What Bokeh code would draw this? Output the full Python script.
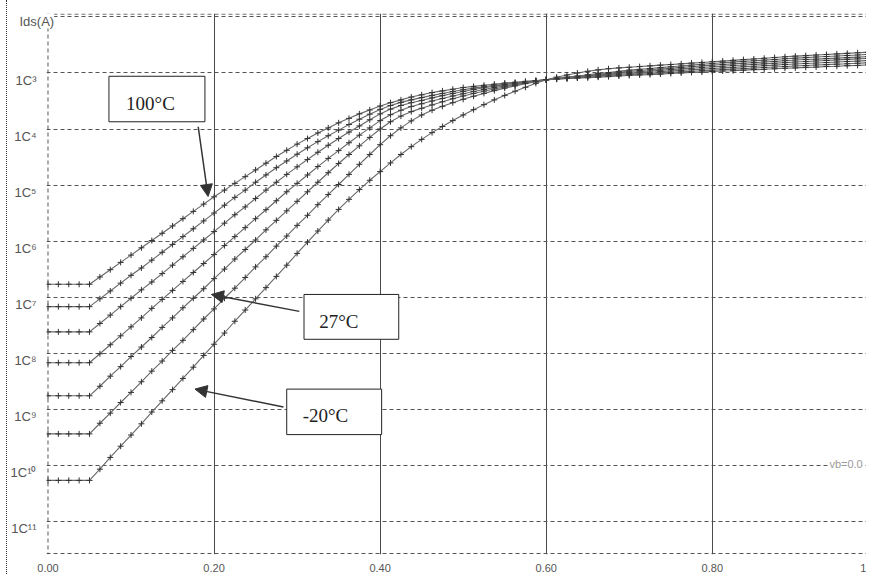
from bokeh.plotting import figure
from bokeh.models import Range1d, FixedTicker, Span, Label, BoxAnnotation, Arrow, NormalHead
from bokeh.embed import file_html
from bokeh.resources import INLINE

# Gate voltage Vgs (V)
VGS = [0.0, 0.0125, 0.025, 0.0375, 0.05, 0.0625, 0.075, 0.0875, 0.1, 0.1125, 0.125, 0.1375,
       0.15, 0.1625, 0.175, 0.1875, 0.2, 0.2125, 0.225, 0.2375, 0.25, 0.2625, 0.275, 0.2875,
       0.3, 0.3125, 0.325, 0.3375, 0.35, 0.3625, 0.375, 0.3875, 0.4, 0.4125, 0.425, 0.4375,
       0.45, 0.4625, 0.475, 0.4875, 0.5, 0.5125, 0.525, 0.5375, 0.55, 0.5625, 0.575, 0.5875,
       0.6, 0.6125, 0.625, 0.6375, 0.65, 0.6625, 0.675, 0.6875, 0.7, 0.7125, 0.725, 0.7375,
       0.75, 0.7625, 0.775, 0.7875, 0.8, 0.8125, 0.825, 0.8375, 0.85, 0.8625, 0.875, 0.8875,
       0.9, 0.9125, 0.925, 0.9375, 0.95, 0.9625, 0.975, 0.9875, 1.0]

# log10(Ids / A) for each temperature curve
LOG_IDS_100C = [-6.77, -6.77, -6.77, -6.77,
    -6.77, -6.64, -6.51, -6.38, -6.25, -6.12, -5.99, -5.86, -5.73, -5.60, -5.47, -5.34, -5.21,
    -5.09, -4.97, -4.85, -4.73, -4.61, -4.49, -4.38, -4.27, -4.17, -4.07, -3.98, -3.89, -3.81, -3.73, -3.66, -3.59,
    -3.53, -3.48, -3.43, -3.39, -3.35, -3.32, -3.29, -3.26, -3.24, -3.22, -3.20, -3.18, -3.165, -3.15, -3.135, -3.12,
    -3.11, -3.10, -3.09, -3.085, -3.075, -3.065, -3.055, -3.045, -3.035, -3.03, -3.02, -3.01, -3.0, -2.99, -2.985, -2.975,
    -2.965, -2.96, -2.95, -2.94, -2.935, -2.925, -2.915, -2.91, -2.90, -2.895, -2.885, -2.88, -2.87, -2.865, -2.855, -2.85]
LOG_IDS_80C = [-7.17, -7.17, -7.17, -7.17,
    -7.17, -7.03, -6.89, -6.75, -6.61, -6.48, -6.34, -6.20, -6.06, -5.92, -5.78, -5.64, -5.50,
    -5.36, -5.22, -5.09, -4.95, -4.82, -4.69, -4.57, -4.45, -4.335, -4.225, -4.12, -4.02, -3.92, -3.825, -3.735, -3.65,
    -3.58, -3.525, -3.48, -3.44, -3.40, -3.365, -3.33, -3.30, -3.27, -3.245, -3.22, -3.20, -3.18, -3.16, -3.14, -3.12,
    -3.109, -3.098, -3.087, -3.076, -3.064, -3.053, -3.042, -3.03, -3.02, -3.01, -3.0, -2.99, -2.98, -2.97, -2.96, -2.95,
    -2.941, -2.931, -2.922, -2.912, -2.903, -2.894, -2.884, -2.875, -2.867, -2.859, -2.851, -2.843, -2.835, -2.826, -2.818, -2.81]
LOG_IDS_60C = [-7.62, -7.62, -7.62, -7.62,
    -7.62, -7.47, -7.32, -7.17, -7.02, -6.87, -6.73, -6.58, -6.43, -6.28, -6.13, -5.98, -5.83,
    -5.68, -5.53, -5.39, -5.24, -5.09, -4.95, -4.81, -4.675, -4.545, -4.415, -4.29, -4.17, -4.055, -3.945, -3.835, -3.73,
    -3.645, -3.58, -3.53, -3.49, -3.445, -3.405, -3.365, -3.33, -3.295, -3.265, -3.235, -3.21, -3.185, -3.16, -3.14, -3.12,
    -3.106, -3.092, -3.079, -3.065, -3.051, -3.038, -3.024, -3.01, -2.999, -2.988, -2.976, -2.965, -2.954, -2.943, -2.931, -2.92,
    -2.91, -2.90, -2.89, -2.88, -2.87, -2.86, -2.85, -2.84, -2.831, -2.823, -2.814, -2.805, -2.796, -2.788, -2.779, -2.77]
LOG_IDS_40C = [-8.17, -8.17, -8.17, -8.17,
    -8.17, -8.01, -7.85, -7.69, -7.53, -7.37, -7.20, -7.04, -6.88, -6.72, -6.56, -6.40, -6.24,
    -6.08, -5.92, -5.76, -5.60, -5.44, -5.28, -5.12, -4.97, -4.82, -4.67, -4.525, -4.385, -4.245, -4.11, -3.98, -3.85,
    -3.745, -3.665, -3.60, -3.55, -3.50, -3.455, -3.41, -3.37, -3.33, -3.295, -3.26, -3.23, -3.20, -3.17, -3.145, -3.12,
    -3.102, -3.085, -3.068, -3.052, -3.036, -3.02, -3.005, -2.99, -2.977, -2.965, -2.952, -2.94, -2.927, -2.915, -2.902, -2.89,
    -2.879, -2.868, -2.858, -2.847, -2.837, -2.826, -2.816, -2.805, -2.796, -2.786, -2.777, -2.767, -2.758, -2.749, -2.739, -2.73]
LOG_IDS_20C = [-8.76, -8.76, -8.76, -8.76,
    -8.76, -8.59, -8.41, -8.24, -8.06, -7.89, -7.72, -7.54, -7.37, -7.19, -7.02, -6.85, -6.67,
    -6.50, -6.32, -6.15, -5.98, -5.80, -5.63, -5.46, -5.29, -5.12, -4.95, -4.78, -4.615, -4.455, -4.30, -4.15, -4.00,
    -3.87, -3.77, -3.69, -3.63, -3.57, -3.515, -3.46, -3.41, -3.365, -3.325, -3.285, -3.25, -3.215, -3.18, -3.15, -3.12,
    -3.101, -3.082, -3.064, -3.045, -3.026, -3.008, -2.989, -2.97, -2.956, -2.943, -2.929, -2.915, -2.901, -2.888, -2.874, -2.86,
    -2.849, -2.838, -2.826, -2.815, -2.804, -2.793, -2.781, -2.77, -2.761, -2.753, -2.744, -2.735, -2.726, -2.718, -2.709, -2.70]
LOG_IDS_0C = [-9.44, -9.44, -9.44, -9.44,
    -9.44, -9.25, -9.07, -8.88, -8.70, -8.51, -8.32, -8.14, -7.95, -7.77, -7.58, -7.39, -7.21,
    -7.02, -6.84, -6.65, -6.46, -6.28, -6.09, -5.91, -5.72, -5.54, -5.35, -5.17, -4.99, -4.81, -4.63, -4.455, -4.28,
    -4.12, -3.98, -3.855, -3.75, -3.665, -3.595, -3.53, -3.47, -3.415, -3.365, -3.315, -3.27, -3.23, -3.19, -3.155, -3.12,
    -3.097, -3.075, -3.054, -3.033, -3.012, -2.992, -2.971, -2.95, -2.935, -2.92, -2.905, -2.89, -2.875, -2.86, -2.845, -2.83,
    -2.818, -2.806, -2.794, -2.783, -2.771, -2.759, -2.747, -2.735, -2.726, -2.716, -2.707, -2.698, -2.688, -2.679, -2.669, -2.66]
LOG_IDS_M20C = [-10.27, -10.27, -10.27, -10.27,
    -10.27, -10.07, -9.86, -9.66, -9.46, -9.26, -9.05, -8.85, -8.65, -8.45, -8.25, -8.04, -7.84,
    -7.64, -7.43, -7.23, -7.03, -6.83, -6.63, -6.43, -6.22, -6.02, -5.82, -5.625, -5.435, -5.255, -5.08, -4.915, -4.76,
    -4.605, -4.455, -4.315, -4.185, -4.065, -3.955, -3.85, -3.75, -3.655, -3.565, -3.48, -3.40, -3.325, -3.255, -3.185, -3.12,
    -3.075, -3.035, -3.0, -2.97, -2.945, -2.925, -2.91, -2.898, -2.886, -2.873, -2.861, -2.849, -2.837, -2.824, -2.812, -2.80,
    -2.788, -2.775, -2.762, -2.75, -2.738, -2.725, -2.712, -2.70, -2.69, -2.68, -2.67, -2.66, -2.65, -2.64, -2.63, -2.62]

CURVES = [LOG_IDS_100C, LOG_IDS_80C, LOG_IDS_60C, LOG_IDS_40C, LOG_IDS_20C, LOG_IDS_0C, LOG_IDS_M20C]

# axis ticks and labels
X_TICKS = [0.0, 0.2, 0.4, 0.6, 0.8]
X_TICK_LABELS = ["0.00", "0.20", "0.40", "0.60", "0.80"]
X_END_LABEL = "1"
Y_DECADES = [-3, -4, -5, -6, -7, -8, -9, -10, -11]
Y_TICK_LABELS = ["1C\u00b3", "1C\u2074", "1C\u2075", "1C\u2076", "1C\u2077", "1C\u2078",
                 "1C\u2079", "1C\u00b9\u2070", "1C\u00b9\u00b9"]
Y_TITLE = "Ids(A)"
VB_TEXT = "vb=0.0"
TEMP_LABELS = ["100\u00b0C", "27\u00b0C", "-20\u00b0C"]

GRAY = "#555555"

p = figure(width=860, height=574, x_range=Range1d(-0.0018, 0.9869), y_range=Range1d(-11.592, -1.939),
           output_backend="svg", toolbar_location=None,
           min_border_left=32, min_border_right=0, min_border_top=13, min_border_bottom=18)
p.styles = {"margin-left": "6px", "border-left": "1px dotted #333333"}
p.outline_line_color = None
p.background_fill_color = "white"
p.border_fill_color = "white"

# "Ids(A)" in the top-left corner
p.title.text = Y_TITLE
p.title.align = "left"
p.title.offset = -27
p.title.standoff = -30
p.title.vertical_align = "bottom"
p.title.text_font = "Liberation Sans"
p.title.text_font_size = "13px"
p.title.text_font_style = "normal"
p.title.text_color = GRAY
p.title.background_fill_color = "white"

# x axis
x_ticks = X_TICKS + [0.982]
p.xaxis.ticker = FixedTicker(ticks=x_ticks)
ov = {t: s for t, s in zip(X_TICKS, X_TICK_LABELS)}
ov[0.982] = X_END_LABEL
p.xaxis.major_label_overrides = ov
p.xaxis.axis_line_color = None
p.xaxis.major_tick_line_color = None
p.xaxis.minor_tick_line_color = None
p.xaxis.major_label_standoff = 3
p.xaxis.major_label_text_font = "Liberation Sans"
p.xaxis.major_label_text_font_size = "11px"
p.xaxis.major_label_text_color = GRAY

# y axis (labels sit just below their decade line)
y_ticks = [round(d - 0.13, 2) for d in Y_DECADES]
p.yaxis.ticker = FixedTicker(ticks=y_ticks)
p.yaxis.major_label_overrides = {t: s for t, s in zip(y_ticks, Y_TICK_LABELS)}
p.yaxis.axis_line_color = None
p.yaxis.major_tick_line_color = None
p.yaxis.minor_tick_line_color = None
p.yaxis.major_label_standoff = 4
p.yaxis.major_label_text_font = "Liberation Sans"
p.yaxis.major_label_text_font_size = "13px"
p.yaxis.major_label_text_color = GRAY

# grids
p.xgrid.ticker = FixedTicker(ticks=[0.2, 0.4, 0.6, 0.8])
p.xgrid.grid_line_color = "#4a4a4a"
p.xgrid.grid_line_width = 1
p.ygrid.ticker = FixedTicker(ticks=[-2] + Y_DECADES)
p.ygrid.grid_line_color = GRAY
p.ygrid.grid_line_dash = "4 3"
p.ygrid.grid_line_width = 1

# frame edges (dashed)
p.add_layout(Span(location=0, dimension="height", line_color=GRAY, line_dash="4 3", line_width=1))
p.add_layout(Span(location=-1.95, dimension="width", line_color=GRAY, line_dash="4 3", line_width=1))
p.add_layout(Span(location=-11.574, dimension="width", line_color=GRAY, line_dash="4 3", line_width=1))

# curves
for ys in CURVES:
    p.line(VGS, ys, line_color="#666666", line_width=1.1)
    p.scatter(VGS, ys, marker="cross", size=6, line_color="#333333", line_width=1)

# annotation boxes, texts and arrows
boxes = [(0.0734, 0.189, -3.059, -3.871), (0.3083, 0.4224, -6.952, -7.752), (0.2875, 0.4018, -8.641, -9.453)]
texts = [(0.1234, -3.539), (0.3502, -7.427), (0.3341, -9.116)]
arrows = [((0.1809, -3.96), (0.1928, -5.204)), ((0.3027, -7.254), (0.1968, -6.952)),
          ((0.2836, -8.961), (0.177, -8.641))]
for (l, r, t, b) in boxes:
    p.add_layout(BoxAnnotation(left=l, right=r, top=t, bottom=b, fill_color="white", fill_alpha=1,
                               line_color="#222222", line_width=1, line_alpha=1))
for ((x0, y0), (x1, y1)) in arrows:
    p.add_layout(Arrow(x_start=x0, y_start=y0, x_end=x1, y_end=y1, line_color="#333333", line_width=1.5,
                       end=NormalHead(size=12, fill_color="#333333", line_color="#333333")))
for (tx, ty), s in zip(texts, TEMP_LABELS):
    p.add_layout(Label(x=tx, y=ty, text=s, text_align="center", text_baseline="alphabetic",
                       text_font="Liberation Serif", text_font_size="19px", text_color="#222222"))

p.add_layout(Label(x=0.941, y=-9.97, text=VB_TEXT, text_align="left", text_baseline="middle",
                   text_font="Liberation Sans", text_font_size="11px", text_color="#999999",
                   background_fill_color="white", background_fill_alpha=1))

open("out.html", "w").write(file_html(p, INLINE))
